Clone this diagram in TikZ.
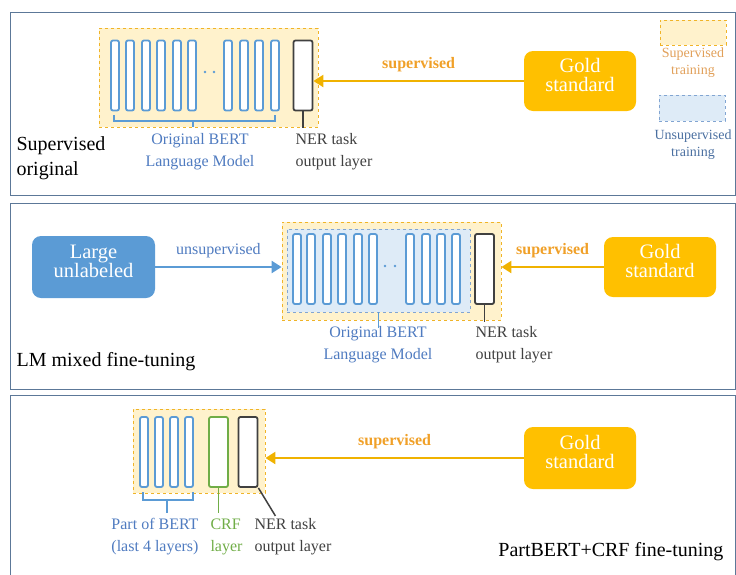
\documentclass[tikz,border=0pt]{standalone}
\usepackage{fontspec}
\setmainfont{Liberation Serif}
\usetikzlibrary{arrows.meta}
\definecolor{panelc}{RGB}{92,120,152}
\definecolor{barc}{RGB}{91,155,213}
\definecolor{outc}{RGB}{64,64,64}
\definecolor{crfc}{RGB}{112,173,71}
\definecolor{supc}{RGB}{240,180,40}
\definecolor{supfill}{RGB}{255,242,204}
\definecolor{unsc}{RGB}{130,165,210}
\definecolor{unsfill}{RGB}{222,235,247}
\definecolor{goldc}{RGB}{255,192,0}
\definecolor{arrc}{RGB}{240,178,0}
\definecolor{suptext}{RGB}{240,160,40}
\definecolor{legtext}{RGB}{225,160,90}
\definecolor{bluetext}{RGB}{79,123,192}
\definecolor{unstext}{RGB}{74,111,160}

\begin{document}
\begin{tikzpicture}[x=1pt,y=-1pt,
  panel/.style={draw=panelc,line width=0.9pt},
  bar/.style={draw=barc,line width=1.8pt,fill=white,rounded corners=2pt,inner sep=0pt,minimum width=8pt,minimum height=70pt},
  outbar/.style={bar,draw=outc,minimum width=19pt},
  crfbar/.style={bar,draw=crfc,minimum width=19pt},
  supbox/.style={draw=supc,dashed,fill=supfill,line width=0.8pt,inner sep=0pt},
  unsbox/.style={draw=unsc,dashed,fill=unsfill,line width=0.8pt,inner sep=0pt},
  gold/.style={rounded corners=9pt,fill=goldc,text=white,inner sep=0pt,minimum width=112pt,minimum height=60pt,align=center,font=\fontsize{20.5}{19}\selectfont,execute at end node={\rule[-12pt]{0pt}{0pt}}},
  big/.style={gold,fill=barc},
  suparrow/.style={draw=arrc,line width=2.3pt,-{Triangle[length=10pt,width=12pt]}},
  unsarrow/.style={suparrow,draw=barc},
  suplabel/.style={midway,above=5pt,text=suptext,font=\fontsize{16}{18}\selectfont\bfseries},
  unslabel/.style={midway,above=5pt,text=bluetext,font=\fontsize{16}{18}\selectfont},
  bertlabel/.style={align=center,text=bluetext,font=\fontsize{16}{22}\selectfont},
  nerlabel/.style={anchor=west,align=left,text=outc,font=\fontsize{16}{22}\selectfont},
  title/.style={anchor=west,align=left,font=\fontsize{20}{25}\selectfont},
  brace/.style={draw=barc,line width=1.5pt}]

\useasboundingbox (0,0) rectangle (736,574);
\clip (0,0) rectangle (736,574);

% panel 1
\draw[panel] (10,12) rectangle (735.5,195);
\node[supbox,minimum width=219pt,minimum height=99pt](sup1) at (208.5,77.5) {};
\foreach \i/\x in {1/115,2/130,3/146,4/161,5/177,6/192,7/228,8/244,9/259,10/275}
  \node[bar](b1\i) at (\x,75.5) {};
\fill[barc] (205,72) circle (1.3) (214,72) circle (1.3);
\node[outbar](out1) at (303,75.5) {};
\draw[outc,line width=1.5pt] (out1.south) -- (303,128);
\draw[brace] (114,115) -- (114,121) -- (275,121) -- (275,115) (193,121) -- (193,127);
\node[bertlabel](bert1) at (200,152) {Original BERT\\Language Model};
\node[nerlabel](ner1) at (292,152) {NER task\\output layer};
\node[title](title1) at (13,158) {Supervised\\original};
\node[gold](gold1) at (580,81) {Gold\\standard};
\path (gold1.west) edge[suparrow] node[suplabel] {supervised} (gold1.west -| out1.east);
\node[supbox,minimum width=66pt,minimum height=25pt](legsup) at (693,32.5) {};
\node[align=center,text=legtext,font=\fontsize{14}{17}\selectfont] at (693,63) {Supervised\\training};
\node[unsbox,minimum width=66pt,minimum height=26pt](legins) at (692,108) {};
\node[align=center,text=unstext,font=\fontsize{14}{17}\selectfont] at (693,145) {Unsupervised\\training};

% panel 2
\draw[panel] (10,203) rectangle (735.5,389);
\node[big,minimum width=123pt,minimum height=62pt](large) at (93.5,267) {Large\\unlabeled};
\node[supbox,minimum width=219pt,minimum height=98pt](sup2) at (391.5,271) {};
\node[unsbox,minimum width=183pt,minimum height=83pt](uns2) at (378.5,270.5) {};
\foreach \i/\x in {1/297,2/311,3/327,4/342,5/358,6/373,7/410,8/426,9/441,10/456}
  \node[bar](b2\i) at (\x,269) {};
\fill[barc] (385,266) circle (1.3) (395,266) circle (1.3);
\node[outbar](out2) at (484.5,269) {};
\draw[outc,line width=1.5pt] (out2.south) -- ++(0,17);
\draw[brace] (uns2.south) -- ++(0,16);
\node[bertlabel](bert2) at (378,345) {Original BERT\\Language Model};
\node[nerlabel](ner2) at (472,345) {NER task\\output layer};
\node[title](title2) at (13,362) {LM mixed fine-tuning};
\node[gold](gold2) at (660,267) {Gold\\standard};
\path (large.east) edge[unsarrow] node[unslabel] {unsupervised} (large.east -| sup2.west)
      (gold2.west) edge[suparrow] node[suplabel] {supervised} (gold2.west -| sup2.east);

% panel 3
\draw[panel] (10,395) rectangle (735.5,600);
\node[supbox,minimum width=132pt,minimum height=84pt](sup3) at (199,451) {};
\foreach \i/\x in {1/144,2/159,3/174,4/189}
  \node[bar](b3\i) at (\x,452) {};
\node[crfbar](crf) at (218.5,452) {};
\node[outbar](out3) at (248,452) {};
\draw[brace] (143,492) -- (143,500) -- (193,500) -- (193,492) (167,500) -- (167,513);
\draw[crfc,line width=1.5pt] (crf.south) -- ++(0,25);
\draw[outc,line width=1.5pt] (out3.south east) -- ++(17,28);
\node[bertlabel](bert3) at (155,537) {Part of BERT\\(last 4 layers)};
\node[nerlabel,text=crfc](crflabel) at (207,537) {CRF\\layer};
\node[nerlabel](ner3) at (251,537) {NER task\\output layer};
\node[title,anchor=east](title3) at (727,552) {PartBERT+CRF fine-tuning};
\node[gold,minimum height=62pt](gold3) at (580,458) {Gold\\standard};
\path (gold3.west) edge[suparrow] node[suplabel] {supervised} (gold3.west -| sup3.east);

\end{tikzpicture}
\end{document}
